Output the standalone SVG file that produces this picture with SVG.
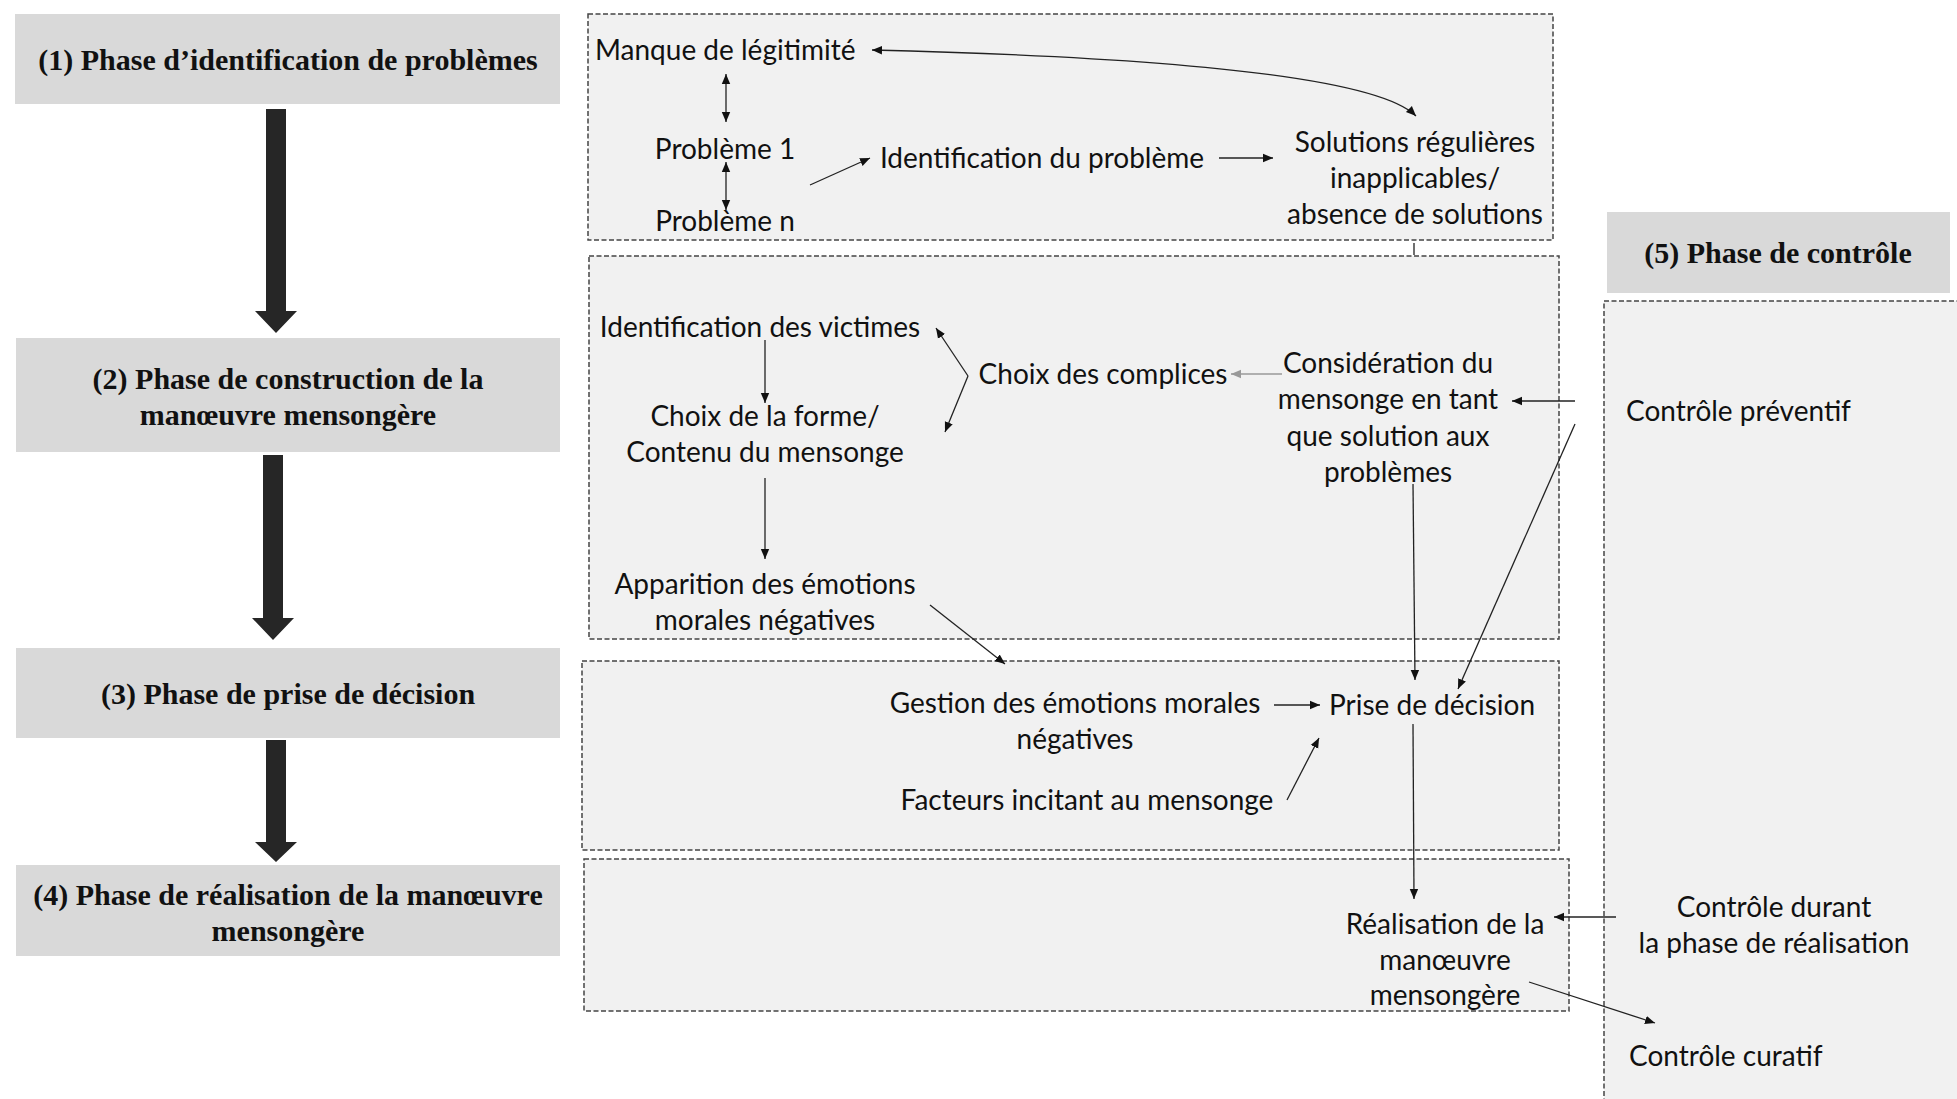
<svg xmlns="http://www.w3.org/2000/svg" width="1957" height="1099" viewBox="0 0 1957 1099">
<defs>
<style>
.phase{fill:#d9d9d9;}
.ph{font-family:"Liberation Serif",serif;font-weight:bold;font-size:30px;fill:#111;text-anchor:middle;}
.zone{fill:#f1f1f1;stroke:#444;stroke-width:1.5;stroke-dasharray:5 2.5;}
.t{font-family:Lato,"Liberation Sans",sans-serif;font-size:28px;fill:#111;}
.c{text-anchor:middle;}
.big{fill:#262626;}
.ln{fill:none;stroke:#222;stroke-width:1.3;}
.gr{fill:none;stroke:#999;stroke-width:1.5;}
</style>
<marker id="ah" viewBox="0 0 10 10" refX="10" refY="5" markerWidth="10" markerHeight="10" markerUnits="userSpaceOnUse" orient="auto-start-reverse"><path d="M0,0.8 L10,5 L0,9.2 z" fill="#111"/></marker>
<marker id="ahg" viewBox="0 0 10 10" refX="10" refY="5" markerWidth="10" markerHeight="10" markerUnits="userSpaceOnUse" orient="auto"><path d="M0,0.8 L10,5 L0,9.2 z" fill="#999"/></marker>
</defs>
<rect width="1957" height="1099" fill="#fff"/>

<g id="phase1"><rect class="phase" x="15" y="14" width="545" height="90"/><text class="ph" x="288" y="70">(1) Phase d’identification de problèmes</text></g>
<g id="phase2"><rect class="phase" x="16" y="338" width="544" height="114"/><text class="ph" x="288" y="389">(2) Phase de construction de la</text><text class="ph" x="288" y="425">manœuvre mensongère</text></g>
<g id="phase3"><rect class="phase" x="16" y="648" width="544" height="90"/><text class="ph" x="288" y="704">(3) Phase de prise de décision</text></g>
<g id="phase4"><rect class="phase" x="16" y="865" width="544" height="91"/><text class="ph" x="288" y="905">(4) Phase de réalisation de la manœuvre</text><text class="ph" x="288" y="941">mensongère</text></g>
<g id="phase5"><rect class="phase" x="1607" y="212" width="343" height="81"/><text class="ph" x="1778" y="263">(5) Phase de contrôle</text></g>

<g id="zones">
<rect id="zone1" class="zone" x="588" y="14" width="965" height="226"/>
<rect id="zone2" class="zone" x="589" y="256" width="970" height="383"/>
<rect id="zone3" class="zone" x="582" y="661" width="977" height="189"/>
<rect id="zone4" class="zone" x="584" y="859" width="985" height="152"/>
<rect id="zone5" class="zone" x="1604" y="301" width="380" height="820"/>
</g>

<g id="phase-arrows">
<polygon class="big" points="266,109 286,109 286,311 297,311 276,333 255,311 266,311"/>
<polygon class="big" points="263,455 283,455 283,618 294,618 273,640 252,618 263,618"/>
<polygon class="big" points="266,740 286,740 286,842 297,842 276,862 255,842 266,842"/>
</g>

<g id="n-manque"><text class="t" x="595" y="60">Manque de légitimité</text></g>
<g id="n-prob1"><text class="t c" x="725" y="159">Problème 1</text></g>
<g id="n-probn"><text class="t c" x="725" y="231">Problème n</text></g>
<g id="n-ident"><text class="t c" x="1042" y="168">Identification du problème</text></g>
<g id="n-solutions"><text class="t c" x="1415" y="152">Solutions régulières</text><text class="t c" x="1415" y="188">inapplicables/</text><text class="t c" x="1415" y="224">absence de solutions</text></g>

<g id="n-victimes"><text class="t c" x="760" y="337">Identification des victimes</text></g>
<g id="n-forme"><text class="t c" x="765" y="426">Choix de la forme/</text><text class="t c" x="765" y="462">Contenu du mensonge</text></g>
<g id="n-complices"><text class="t c" x="1103" y="384">Choix des complices</text></g>
<g id="n-consid"><text class="t c" x="1388" y="373">Considération du</text><text class="t c" x="1388" y="409">mensonge en tant</text><text class="t c" x="1388" y="446">que solution aux</text><text class="t c" x="1388" y="482">problèmes</text></g>
<g id="n-apparition"><text class="t c" x="765" y="594">Apparition des émotions</text><text class="t c" x="765" y="630">morales négatives</text></g>

<g id="n-gestion"><text class="t c" x="1075" y="713">Gestion des émotions morales</text><text class="t c" x="1075" y="749">négatives</text></g>
<g id="n-prise"><text class="t c" x="1432" y="715">Prise de décision</text></g>
<g id="n-facteurs"><text class="t c" x="1087" y="810">Facteurs incitant au mensonge</text></g>

<g id="n-realisation"><text class="t c" x="1445" y="934">Réalisation de la</text><text class="t c" x="1445" y="970">manœuvre</text><text class="t c" x="1445" y="1005">mensongère</text></g>

<g id="n-preventif"><text class="t" x="1626" y="421">Contrôle préventif</text></g>
<g id="n-durant"><text class="t c" x="1774" y="917">Contrôle durant</text><text class="t c" x="1774" y="953">la phase de réalisation</text></g>
<g id="n-curatif"><text class="t" x="1629" y="1066">Contrôle curatif</text></g>

<g id="connectors">
<path class="ln" d="M1416,116 C1380,80 1200,58 872,50" marker-start="url(#ah)" marker-end="url(#ah)"/>
<line class="ln" x1="726" y1="74" x2="726" y2="122" marker-start="url(#ah)" marker-end="url(#ah)"/>
<line class="ln" x1="726" y1="162" x2="726" y2="210" marker-start="url(#ah)" marker-end="url(#ah)"/>
<line class="ln" x1="810" y1="185" x2="870" y2="158" marker-end="url(#ah)"/>
<line class="ln" x1="1219" y1="158" x2="1273" y2="158" marker-end="url(#ah)"/>
<line class="ln" x1="1414" y1="243" x2="1414" y2="255"/>

<line class="ln" x1="765" y1="340" x2="765" y2="403" marker-end="url(#ah)"/>
<line class="ln" x1="765" y1="478" x2="765" y2="559" marker-end="url(#ah)"/>
<line class="ln" x1="968" y1="376" x2="936" y2="328" marker-end="url(#ah)"/>
<line class="ln" x1="968" y1="376" x2="945" y2="432" marker-end="url(#ah)"/>
<line class="gr" x1="1282" y1="374" x2="1231" y2="374" marker-end="url(#ahg)"/>
<line class="ln" x1="1575" y1="401" x2="1512" y2="401" marker-end="url(#ah)"/>
<line class="ln" x1="1575" y1="424" x2="1458" y2="689" marker-end="url(#ah)"/>
<line class="ln" x1="1413" y1="484" x2="1415" y2="680" marker-end="url(#ah)"/>
<line class="ln" x1="930" y1="605" x2="1005" y2="664" marker-end="url(#ah)"/>

<line class="ln" x1="1274" y1="705" x2="1320" y2="705" marker-end="url(#ah)"/>
<line class="ln" x1="1287" y1="800" x2="1319" y2="738" marker-end="url(#ah)"/>
<line class="ln" x1="1413" y1="724" x2="1414" y2="899" marker-end="url(#ah)"/>

<line class="ln" x1="1616" y1="917" x2="1554" y2="917" marker-end="url(#ah)"/>
<line class="ln" x1="1529" y1="982" x2="1655" y2="1023" marker-end="url(#ah)"/>
</g>
</svg>
